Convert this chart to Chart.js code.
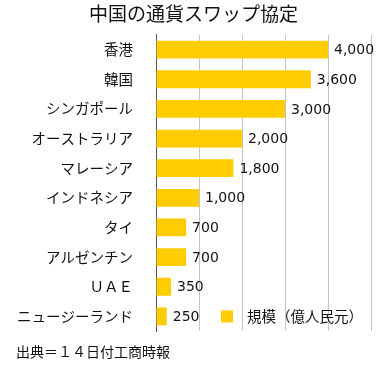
<!DOCTYPE html>
<html>
<head>
<meta charset="utf-8">
<script src="https://cdn.jsdelivr.net/npm/chart.js@4"></script>
<style>
  body { margin: 0; background: #fff; }
  #wrap { width: 387px; height: 365px; }
</style>
</head>
<body>
<div id="wrap"><canvas id="myChart"></canvas></div>
<script>
// data
const countries = ['香港', '韓国', 'シンガポール', 'オーストラリア', 'マレーシア', 'インドネシア', 'タイ', 'アルゼンチン', 'ＵＡＥ', 'ニュージーランド'];
const swapSizes = [4000, 3600, 3000, 2000, 1800, 1000, 700, 700, 350, 250];
const seriesName = '規模（億人民元）';
const titleText = '中国の通貨スワップ協定';
const sourceText = '出典＝１４日付工商時報';

const jpFont = '"Noto Sans CJK JP", "Noto Sans", sans-serif';
const barColor = '#ffcc00';

// value labels next to each bar
const valueLabels = {
  id: 'valueLabels',
  afterDatasetsDraw(chart) {
    const { ctx } = chart;
    const meta = chart.getDatasetMeta(0);
    ctx.save();
    ctx.font = '14px "DejaVu Sans", sans-serif';
    ctx.fillStyle = '#111';
    ctx.textBaseline = 'middle';
    meta.data.forEach((bar, i) => {
      ctx.fillText(swapSizes[i].toLocaleString('en-US'), bar.x + 6, bar.y + 1);
    });
    ctx.restore();
  }
};

// legend drawn inside the plot, next to the last bar
const innerLegend = {
  id: 'innerLegend',
  afterDraw(chart) {
    const { ctx, chartArea } = chart;
    const meta = chart.getDatasetMeta(0);
    const y = meta.data[meta.data.length - 1].y;
    const x = chartArea.left + 65;
    ctx.save();
    ctx.fillStyle = barColor;
    ctx.fillRect(x, y - 6, 12, 12);
    ctx.font = '14.5px ' + jpFont;
    ctx.fillStyle = '#111';
    ctx.textBaseline = 'middle';
    ctx.fillText(seriesName, x + 26, y);
    ctx.restore();
  }
};

const ctx = document.getElementById('myChart');

const swapChart = new Chart(ctx, {
  type: 'bar',
  data: {
    labels: countries,
    datasets: [{
      label: seriesName,
      data: swapSizes,
      backgroundColor: barColor,
      barPercentage: 0.6,
      categoryPercentage: 1.0
    }]
  },
  options: {
    indexAxis: 'y',
    responsive: true,
    maintainAspectRatio: false,
    animation: false,
    layout: {
      padding: { left: 16, right: 16, top: 0, bottom: 0 }
    },
    plugins: {
      legend: { display: false },
      tooltip: { enabled: false },
      title: {
        display: true,
        text: titleText,
        color: '#111',
        font: { family: jpFont, size: 19, weight: 'normal' },
        padding: { top: 2, bottom: 10 }
      },
      subtitle: {
        display: true,
        text: sourceText,
        position: 'bottom',
        align: 'start',
        color: '#111',
        font: { family: jpFont, size: 14, weight: 'normal' },
        padding: { top: 12, bottom: 5 }
      }
    },
    scales: {
      x: {
        min: 0,
        max: 5000,
        ticks: { display: false, stepSize: 1000 },
        grid: { color: '#c4c4c4', drawTicks: false },
        border: { display: false }
      },
      y: {
        afterFit(scale) { scale.width = 140; },
        ticks: {
          color: '#111',
          padding: 23,
          font: { family: jpFont, size: 14.5 }
        },
        grid: { display: false, drawTicks: false },
        border: { display: true, color: '#555', width: 1 }
      }
    }
  },
  plugins: [valueLabels, innerLegend]
});
</script>
</body>
</html>
